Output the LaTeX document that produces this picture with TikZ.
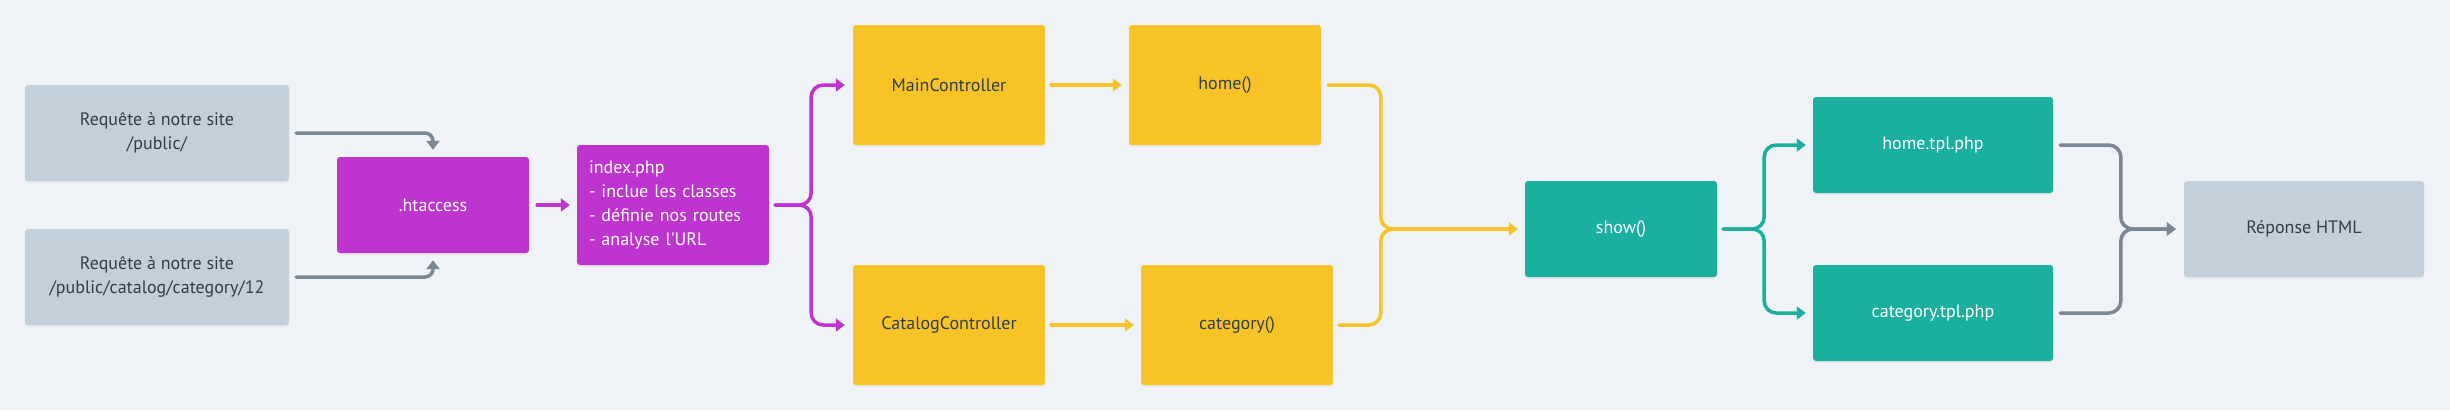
\documentclass[tikz,border=0pt]{standalone}
\usepackage{fontspec}
\newfontfamily\dinfont{PT Sans}
\usetikzlibrary{calc}
\usetikzlibrary{arrows.meta}
\usetikzlibrary{shadows}
\tikzset{>=latex}
\definecolor{bgcol}{HTML}{EFF3F7}
\definecolor{mygrey}{HTML}{C3CFD9}
\definecolor{mylinegrey}{HTML}{7B8794}
\definecolor{mypurple}{HTML}{BE34CE}
\definecolor{myyellow}{HTML}{F8C326}
\definecolor{myteal}{HTML}{1BAF9F}
\definecolor{mytext}{HTML}{323E4A}
\tikzset{
  box/.style={rectangle, rounded corners=3pt, minimum width=192pt, minimum height=96pt,
    inner sep=0pt, align=center, font=\dinfont\fontsize{18pt}{24pt}\selectfont,
    drop shadow={opacity=0.08, shadow xshift=0pt, shadow yshift=-2pt}},
  greybox/.style={box, fill=mygrey, text=mytext},
  purplebox/.style={box, fill=mypurple, text=white},
  yellowbox/.style={box, fill=myyellow, text=mytext, minimum height=120pt},
  tealbox/.style={box, fill=myteal, text=white},
  link/.style={line width=3.5pt, line cap=round, rounded corners=12pt,
    -{Triangle[width=13pt,length=9pt]}},
  greylink/.style={link, mylinegrey},
  purplelink/.style={link, mypurple},
  yellowlink/.style={link, myyellow},
  teallink/.style={link, myteal}
}

\begin{document}
\begin{tikzpicture}[x=1pt, y=-1pt]
    \useasboundingbox[fill=bgcol] (0,0) rectangle (2450,410);

    % REQUESTS
    \node[greybox, minimum width=264pt] (req1) at (157,133) {Requête à notre site\\/public/};
    \node[greybox, minimum width=264pt] (req2) at (157,277) {Requête à notre site\\/public/catalog/category/12};

    % FRONT CONTROLLER
    \node[purplebox] (hta) at (433,205) {.htaccess};
    \node[purplebox, minimum height=120pt, text width=168pt, align=left] (idx) at (673,205)
        {index.php\\- inclue les classes\\- définie nos routes\\- analyse l'URL};

    % CONTROLLERS AND METHODS
    \node[yellowbox] (main) at (949,85) {MainController};
    \node[yellowbox] (catc) at (949,325) {CatalogController};
    \node[yellowbox] (home) at (1225,85) {home()};
    \node[yellowbox] (categ) at (1237,325) {category()};

    % VIEWS
    \node[tealbox] (show) at (1621,229) {show()};
    \node[tealbox, minimum width=240pt] (hometpl) at (1933,145) {home.tpl.php};
    \node[tealbox, minimum width=240pt] (cattpl) at (1933,313) {category.tpl.php};
    \node[greybox, minimum width=240pt] (resp) at (2304,229) {Réponse HTML};

    \coordinate (split1) at ($(idx.east)+(42,0)$);
    \coordinate (merge1) at ($(show.west)+(-144,0)$);
    \coordinate (split2) at ($(show.east)+(47,0)$);
    \coordinate (merge2) at ($(resp.west)+(-63,0)$);

    % LINKS
    \draw[greylink, rounded corners=8pt] ([xshift=7pt]req1.east) -| ([yshift=7pt]hta.north);
    \draw[greylink, rounded corners=8pt] ([xshift=7pt]req2.east) -| ([yshift=-7pt]hta.south);
    \draw[purplelink] ([xshift=8pt]hta.east) -- ([xshift=-7pt]idx.west);

    \draw[purplelink] ([xshift=6pt]idx.east) -- (split1) |- ([xshift=-8pt]main.west);
    \draw[purplelink] ([xshift=6pt]idx.east) -- (split1) |- ([xshift=-8pt]catc.west);

    \draw[yellowlink] ([xshift=6pt]main.east) -- ([xshift=-7pt]home.west);
    \draw[yellowlink] ([xshift=6pt]catc.east) -- ([xshift=-7pt]categ.west);
    \draw[yellowlink] ([xshift=7pt]home.east) -| (merge1) -- ([xshift=-7pt]show.west);
    \draw[yellowlink] ([xshift=6pt]categ.east) -| (merge1) -- ([xshift=-7pt]show.west);

    \draw[teallink] ([xshift=6pt]show.east) -- (split2) |- ([xshift=-7pt]hometpl.west);
    \draw[teallink] ([xshift=6pt]show.east) -- (split2) |- ([xshift=-7pt]cattpl.west);

    \draw[greylink] ([xshift=7pt]hometpl.east) -| (merge2) -- ([xshift=-8pt]resp.west);
    \draw[greylink] ([xshift=7pt]cattpl.east) -| (merge2) -- ([xshift=-8pt]resp.west);

\end{tikzpicture}
\end{document}
